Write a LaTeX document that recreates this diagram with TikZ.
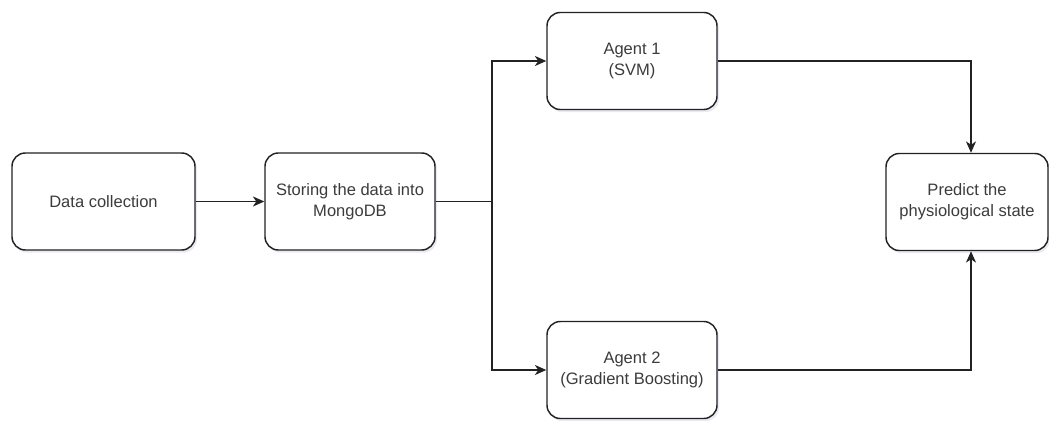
\documentclass[tikz,border=0pt]{standalone}
\usepackage{fontspec}
\setmainfont{Liberation Sans}
\usetikzlibrary{arrows.meta, positioning, calc, shadows}
\definecolor{cline}{HTML}{222222}
\definecolor{ctext}{HTML}{3C3C3C}
\definecolor{cshade}{HTML}{8A8FB8}
\tikzset{
  every picture/.style={line width=1.1pt},
  box/.style={draw=cline, fill=white, rounded corners=10pt, align=center, inner sep=4pt,
              minimum width=#1, minimum height=72.75pt, text=ctext,
              font=\fontsize{12.4pt}{15.75pt}\selectfont,
              drop shadow={shadow xshift=1.5pt, shadow yshift=-2pt, opacity=0.18, fill=cshade}},
  box/.default=127.5pt,
  arrow/.style={-{Stealth[length=8.5pt, width=7.5pt, inset=2.5pt]}, draw=cline},
}
\begin{document}
\begin{tikzpicture}[x=0.75pt, y=-0.75pt]
  \useasboundingbox (0,0) rectangle (1049,421);
  % steps
  \node[box=137.25pt] (collect) at (103.5,201.5) {Data collection};
  \node[box] (store) at (350,201.5) {Storing the data into\\MongoDB};
  \node[box] (agent1) at (632,61) {Agent 1\\(SVM)};
  \node[box] (agent2) at (632,370) {Agent 2\\(Gradient Boosting)};
  \node[box=121.5pt] (predict) at (967,202) {Predict the\\physiological state};
  \coordinate (split) at (492,201.5);
  % connectors
  \draw[arrow] (collect) -- (store);
  \draw[arrow] (store.east) -- (split) |- (agent1.west);
  \draw[arrow] (store.east) -- (split) |- (agent2.west);
  \draw[arrow] (agent1.east) -| ([xshift=3pt]predict.north);
  \draw[arrow] (agent2.east) -| ([xshift=3pt]predict.south);
\end{tikzpicture}
\end{document}
